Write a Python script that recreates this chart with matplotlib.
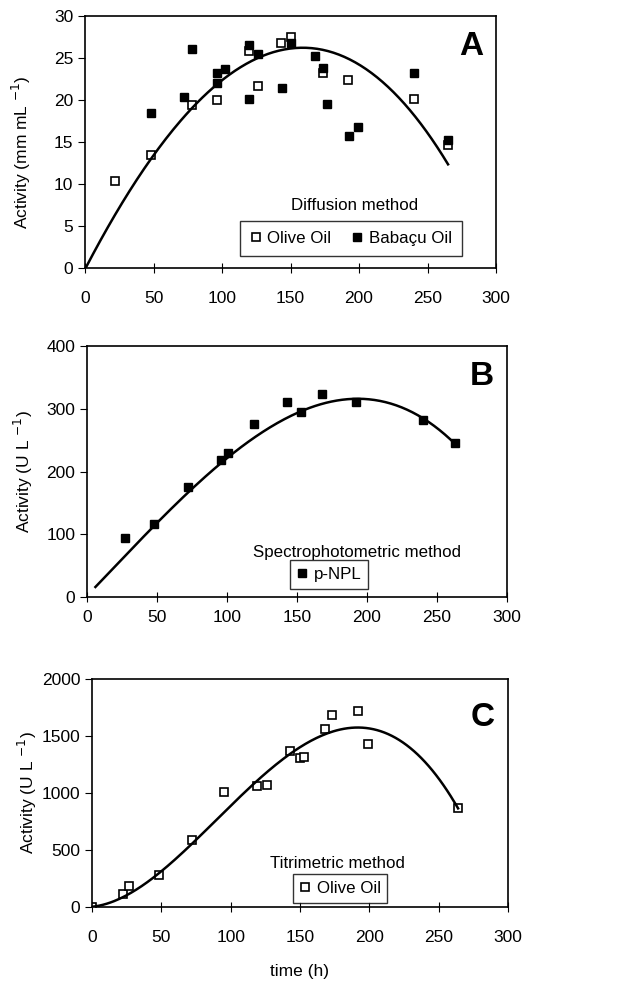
import matplotlib.pyplot as plt
import numpy as np

plt.rcParams['font.family'] = ['Liberation Sans', 'DejaVu Sans']

# panel A - diffusion method
a_olive_x = [22, 48, 78, 96, 120, 126, 143, 150, 174, 192, 240, 265]
a_olive_y = [10.4, 13.4, 19.4, 20.0, 25.8, 21.7, 26.8, 27.5, 23.2, 22.4, 20.1, 14.6]
a_bab_x = [48, 72, 78, 96, 96, 102, 120, 120, 126, 144, 150, 168, 174, 177, 193, 199, 240, 265]
a_bab_y = [18.5, 20.4, 26.1, 23.2, 22.0, 23.7, 26.5, 20.1, 25.5, 21.4, 26.8, 25.2, 23.8, 19.5, 15.7, 16.8, 23.2, 15.2]
a_curve_x = [0.7, 50, 100, 150, 200, 250, 265]
a_curve_y = [0.1, 13.2, 22.8, 25.9, 23.8, 17.2, 11.6]

# panel B - spectrophotometric method
b_x = [27, 48, 72, 96, 101, 119, 143, 153, 168, 192, 240, 263]
b_y = [94, 117, 176, 219, 229, 276, 310, 295, 324, 310, 282, 246]
b_curve_x = [6, 50, 100, 150, 185, 200, 250, 262]
b_curve_y = [15, 120, 222, 288, 318, 316, 271, 244]

# panel C - titrimetric method
c_x = [0, 22, 27, 48, 72, 95, 119, 126, 143, 150, 153, 168, 173, 192, 199, 264]
c_y = [0, 111, 185, 280, 590, 1010, 1060, 1070, 1370, 1310, 1315, 1560, 1680, 1720, 1430, 870]
c_curve_x = [0, 50, 100, 150, 190, 200, 250, 264]
c_curve_y = [0, 322, 874, 1408, 1580, 1565, 1114, 874]

W, H = 630, 981
FS = 12.5   # ticks / axis labels
LFS = 12.2  # legend texts
fig = plt.figure(figsize=(W / 100, H / 100), dpi=100)


def box(l, t, r, b):
    return [l / W, 1 - b / H, (r - l) / W, (b - t) / H]


def smooth(xs, ys, deg):
    p = np.polyfit(xs, ys, deg)
    xx = np.linspace(xs[0], xs[-1], 200)
    return xx, np.polyval(p, xx)


def style(ax, ymax, ystep, xpad):
    ax.set_xlim(0, 300)
    ax.set_ylim(0, ymax)
    ax.set_xticks(range(0, 301, 50))
    ax.set_yticks(np.arange(0, ymax + 1, ystep))
    ax.tick_params(axis='x', direction='inout', length=7, labelsize=FS, pad=xpad)
    ax.tick_params(axis='y', direction='out', length=5, labelsize=FS)
    for s in ax.spines.values():
        s.set_linewidth(1.2)


def legend(ax, anchor, ncol=1, pad=0.4):
    leg = ax.legend(loc='lower left', bbox_to_anchor=anchor, ncol=ncol, fontsize=LFS, frameon=True,
                    fancybox=False, edgecolor='black', handlelength=0.6, handletextpad=0.4,
                    columnspacing=1.2, borderpad=pad, borderaxespad=0, markerscale=0.9)
    leg.get_frame().set_linewidth(1.0)


sq = dict(marker='s', ms=6, ls='none')

# A
ax = fig.add_axes(box(85, 16, 496, 268))
ax.plot(a_olive_x, a_olive_y, mfc='white', mec='black', mew=1.2, label='Olive Oil', **sq)
ax.plot(a_bab_x, a_bab_y, mfc='black', mec='black', label='Babaçu Oil', **sq)
xx, yy = smooth(a_curve_x, a_curve_y, 3)
ax.plot(xx, yy, color='black', lw=1.8)
style(ax, 30, 5, 13)
ax.set_ylabel('Activity (mm mL $^{-1}$)', fontsize=FS)
ax.yaxis.set_label_coords(-0.127, 0.46)
ax.text(0.94, 0.88, 'A', transform=ax.transAxes, fontsize=24, fontweight='bold', ha='center', va='center')
ax.text(0.655, 0.25, 'Diffusion method', transform=ax.transAxes, fontsize=LFS, ha='center', va='center', zorder=6)
legend(ax, (0.378, 0.048), ncol=2, pad=0.6)

# B
ax = fig.add_axes(box(87, 346, 507, 597))
ax.plot(b_x, b_y, mfc='black', mec='black', label='p-NPL', **sq)
xx, yy = smooth(b_curve_x, b_curve_y, 3)
ax.plot(xx, yy, color='black', lw=1.8)
style(ax, 400, 100, 6)
ax.set_ylabel('Activity (U L $^{-1}$)', fontsize=FS)
ax.yaxis.set_label_coords(-0.124, 0.5)
ax.text(0.643, 0.178, 'Spectrophotometric method', transform=ax.transAxes, fontsize=LFS,
        ha='center', va='center', zorder=6)
ax.text(0.94, 0.88, 'B', transform=ax.transAxes, fontsize=24, fontweight='bold', ha='center', va='center')
legend(ax, (0.483, 0.032))

# C
ax = fig.add_axes(box(92, 679, 508, 907))
ax.plot(c_x, c_y, mfc='white', mec='black', mew=1.2, label='Olive Oil', **sq)
xx, yy = smooth(c_curve_x, c_curve_y, 4)
ax.plot(xx, yy, color='black', lw=1.8)
style(ax, 2000, 500, 13)
ax.set_ylabel('Activity (U L $^{-1}$)', fontsize=FS)
ax.yaxis.set_label_coords(-0.127, 0.5)
ax.set_xlabel('time (h)', fontsize=FS, labelpad=14)
ax.text(0.94, 0.83, 'C', transform=ax.transAxes, fontsize=24, fontweight='bold', ha='center', va='center')
ax.text(0.59, 0.19, 'Titrimetric method', transform=ax.transAxes, fontsize=LFS, ha='center', va='center', zorder=6)
legend(ax, (0.483, 0.0175))

fig.savefig('out.png', dpi=100)
